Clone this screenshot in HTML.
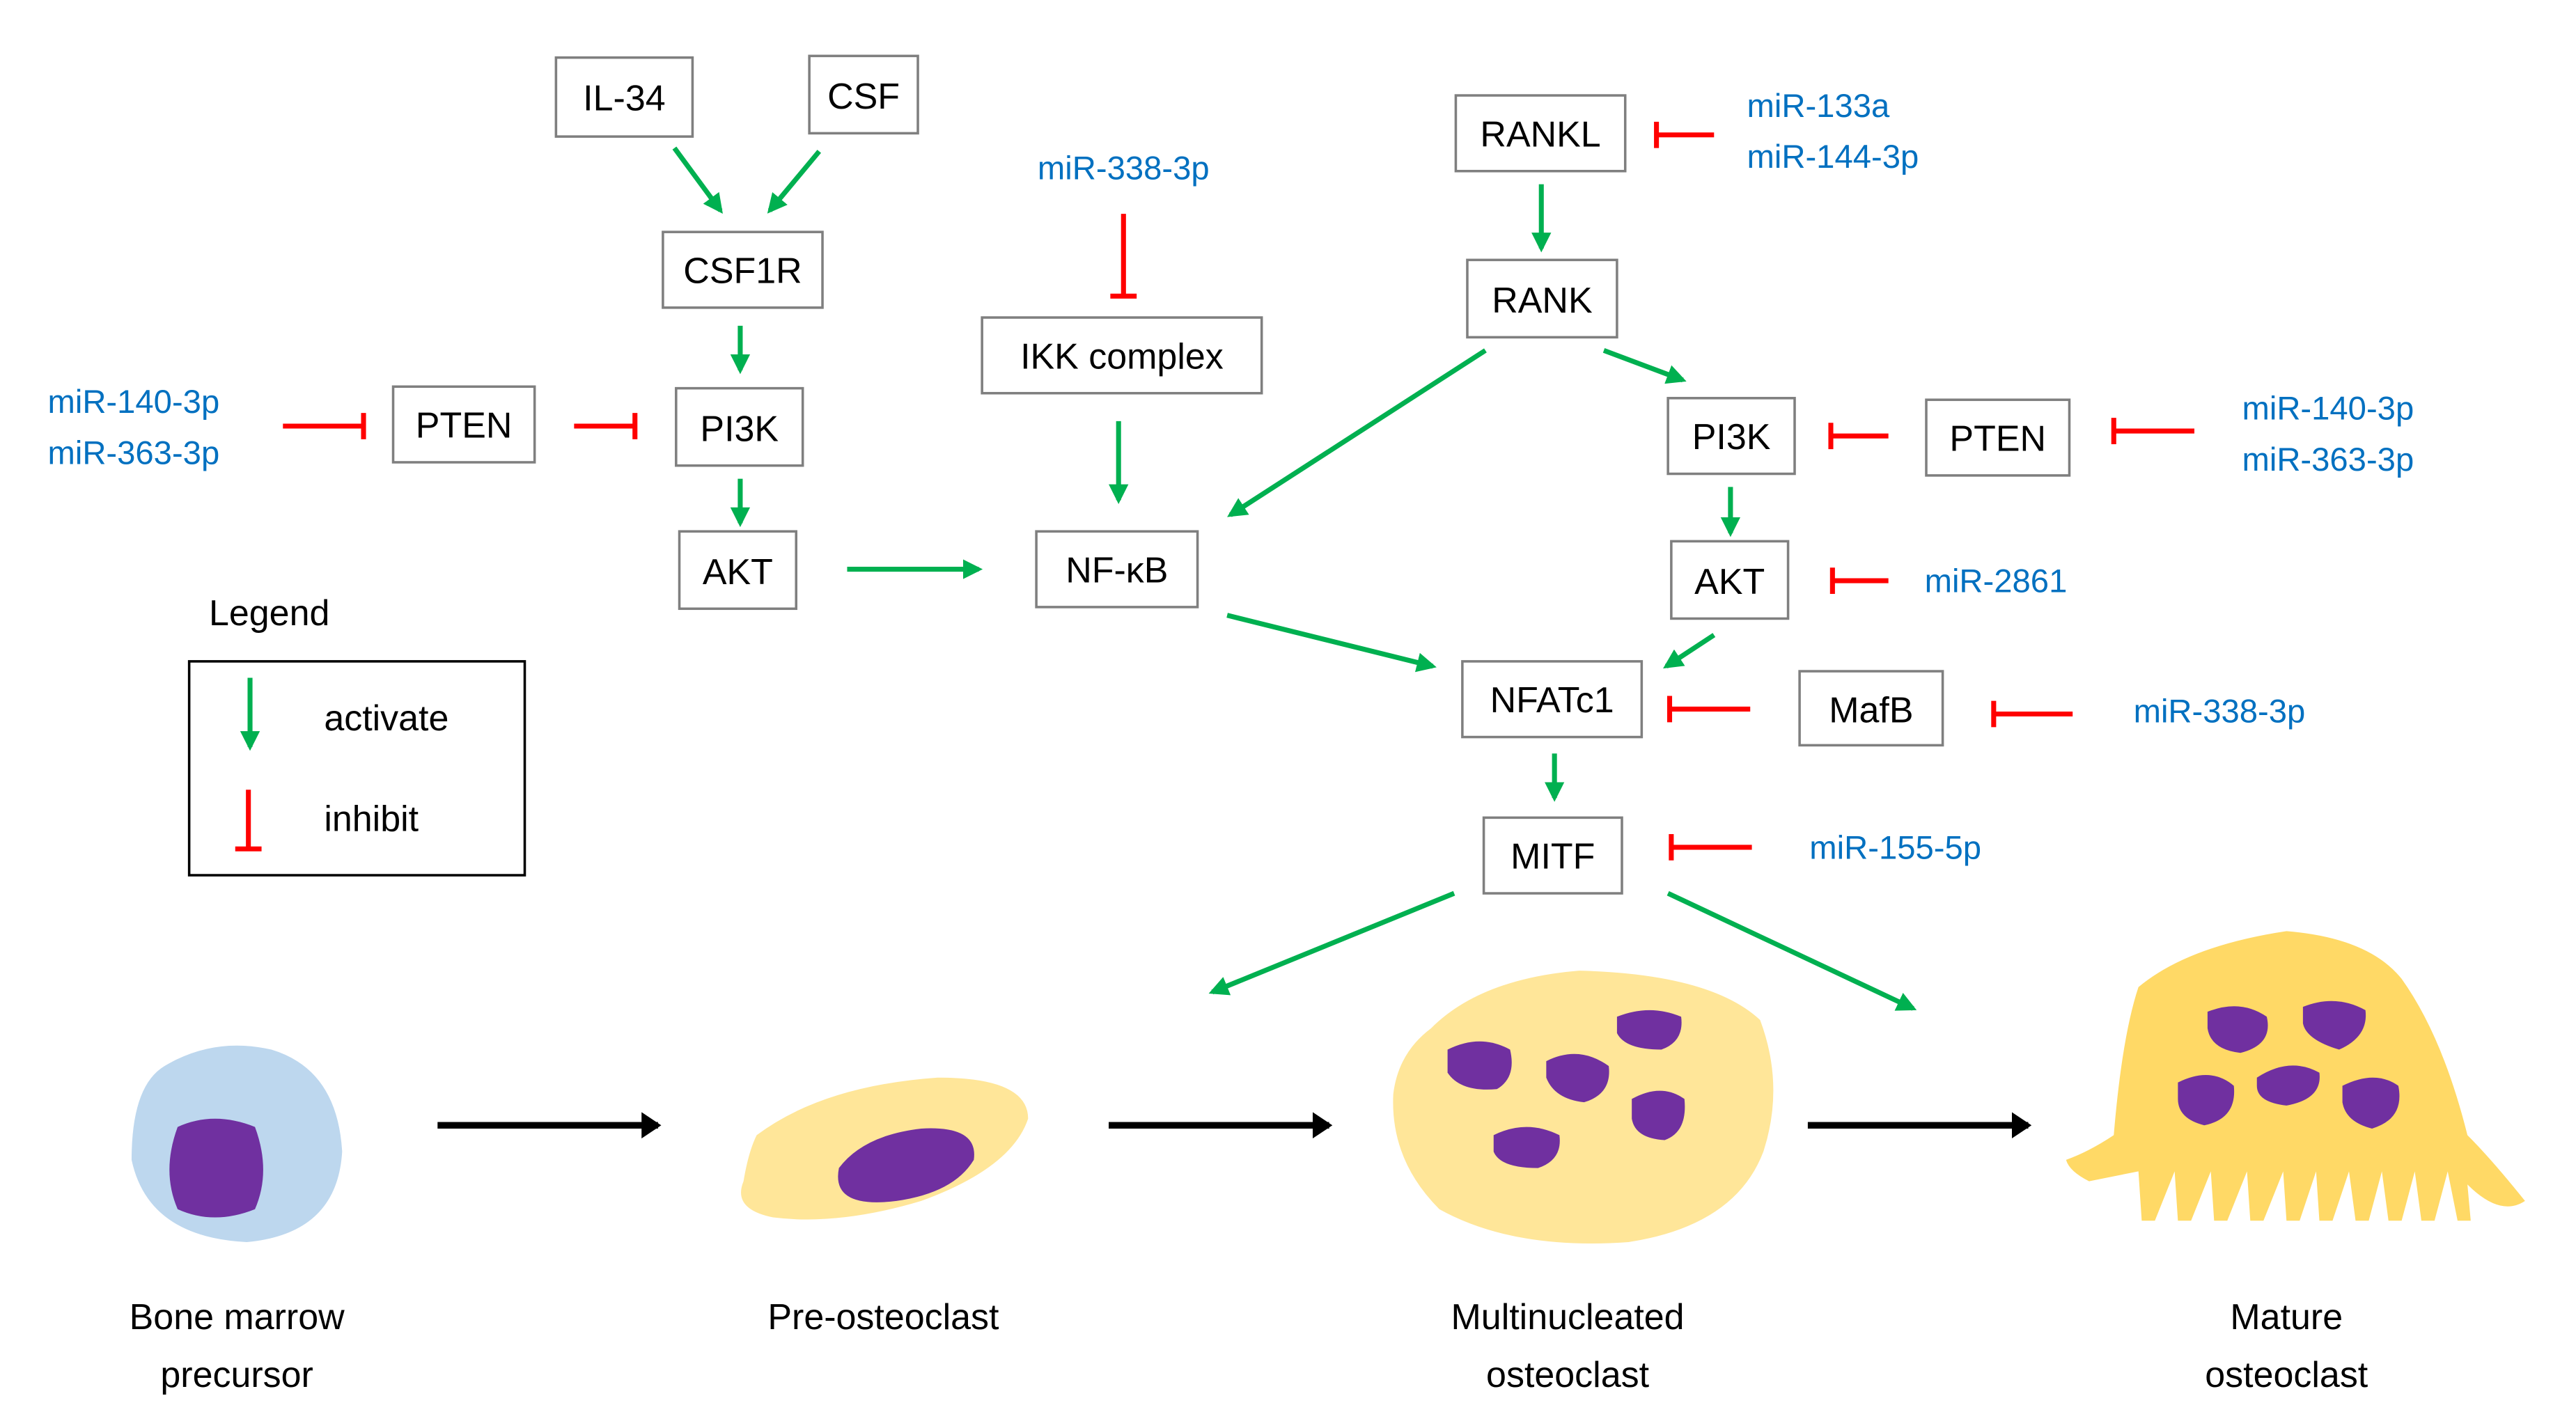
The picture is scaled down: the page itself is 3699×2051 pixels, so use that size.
<!DOCTYPE html>
<html><head><meta charset="utf-8"><style>
html,body{margin:0;padding:0;background:#fff;}
svg{display:block;}
text{font-family:"Liberation Sans",sans-serif;}
</style></head><body>
<svg width="3699" height="2051" viewBox="0 0 1566 868" preserveAspectRatio="none" xmlns="http://www.w3.org/2000/svg">
<defs>
<marker id="g" markerWidth="4" markerHeight="4" refX="3.2" refY="2" orient="auto" markerUnits="strokeWidth"><path d="M0,0 L4,2 L0,4 z" fill="#00B050"/></marker>
<marker id="k" markerWidth="3" markerHeight="4" refX="2.5" refY="2" orient="auto" markerUnits="strokeWidth"><path d="M0,0 L3,2 L0,4 z" fill="#000"/></marker>
</defs>
<g fill="#fff" stroke="#7f7f7f" stroke-width="1.5">
<rect x="338" y="35" width="83" height="48"/>
<rect x="492" y="34" width="66" height="47"/>
<rect x="403" y="141" width="97" height="46"/>
<rect x="239" y="235" width="86" height="46"/>
<rect x="411" y="236" width="77" height="47"/>
<rect x="413" y="323" width="71" height="47"/>
<rect x="597" y="193" width="170" height="46"/>
<rect x="630" y="323" width="98" height="46"/>
<rect x="885" y="58" width="103" height="46"/>
<rect x="892" y="158" width="91" height="47"/>
<rect x="1014" y="242" width="77" height="46"/>
<rect x="1171" y="243" width="87" height="46"/>
<rect x="1016" y="329" width="71" height="47"/>
<rect x="889" y="402" width="109" height="46"/>
<rect x="1094" y="408" width="87" height="45"/>
<rect x="902" y="497" width="84" height="46"/>
</g>
<rect x="115" y="402" width="204" height="130" fill="none" stroke="#000" stroke-width="1.5"/>
<g font-size="22" fill="#000" text-anchor="middle">
<text x="379.5" y="67">IL-34</text>
<text x="525" y="66">CSF</text>
<text x="451.5" y="172">CSF1R</text>
<text x="282" y="266">PTEN</text>
<text x="449.5" y="268">PI3K</text>
<text x="448.5" y="355">AKT</text>
<text x="682" y="224">IKK complex</text>
<text x="679" y="354">NF-κB</text>
<text x="936.5" y="89">RANKL</text>
<text x="937.5" y="190">RANK</text>
<text x="1052.5" y="273">PI3K</text>
<text x="1214.5" y="274">PTEN</text>
<text x="1051.5" y="361">AKT</text>
<text x="943.5" y="433">NFATc1</text>
<text x="1137.5" y="439">MafB</text>
<text x="944" y="528">MITF</text>
<text x="127" y="380" text-anchor="start">Legend</text>
<text x="197" y="444" text-anchor="start">activate</text>
<text x="197" y="505" text-anchor="start">inhibit</text>
<text x="144" y="808">Bone marrow</text>
<text x="144" y="843">precursor</text>
<text x="537" y="808">Pre-osteoclast</text>
<text x="953" y="808">Multinucleated</text>
<text x="953" y="843">osteoclast</text>
<text x="1390" y="808">Mature</text>
<text x="1390" y="843">osteoclast</text>
</g>
<g font-size="20" fill="#0070C0">
<text x="683" y="109" text-anchor="middle">miR-338-3p</text>
<text x="1062" y="71">miR-133a</text>
<text x="1062" y="102">miR-144-3p</text>
<text x="29" y="251">miR-140-3p</text>
<text x="29" y="282">miR-363-3p</text>
<text x="1363" y="255">miR-140-3p</text>
<text x="1363" y="286">miR-363-3p</text>
<text x="1170" y="360">miR-2861</text>
<text x="1297" y="439">miR-338-3p</text>
<text x="1100" y="522">miR-155-5p</text>
</g>
<g stroke="#00B050" stroke-width="3" fill="none" marker-end="url(#g)">
<line x1="410" y1="90" x2="438" y2="128"/>
<line x1="498" y1="92" x2="468" y2="128"/>
<line x1="450" y1="198" x2="450" y2="225"/>
<line x1="450" y1="291" x2="450" y2="318"/>
<line x1="515" y1="346" x2="595" y2="346"/>
<line x1="680" y1="256" x2="680" y2="304"/>
<line x1="903" y1="213" x2="748" y2="313"/>
<line x1="975" y1="213" x2="1023" y2="231"/>
<line x1="746" y1="374" x2="871" y2="405"/>
<line x1="937" y1="112" x2="937" y2="151"/>
<line x1="1052" y1="296" x2="1052" y2="324"/>
<line x1="1042" y1="386" x2="1013" y2="405"/>
<line x1="945" y1="458" x2="945" y2="485"/>
<line x1="884" y1="543" x2="737" y2="603"/>
<line x1="1014" y1="543" x2="1163" y2="613"/>
<line x1="152" y1="412" x2="152" y2="454"/>
</g>
<g stroke="#FF0000" stroke-width="3" fill="none">
<path d="M172,259 H221 M221,251 V267"/>
<path d="M349,259 H386 M386,251 V267"/>
<path d="M683,130 V180 M675,180 H691"/>
<path d="M1042,82 H1007 M1007,74 V90"/>
<path d="M1148,265 H1113 M1113,257 V273"/>
<path d="M1334,262 H1285 M1285,254 V270"/>
<path d="M1148,353 H1114 M1114,345 V361"/>
<path d="M1064,431 H1015 M1015,423 V439"/>
<path d="M1260,434 H1212 M1212,426 V442"/>
<path d="M1065,515 H1016 M1016,507 V523"/>
<path d="M151,480 V516 M143,516 H159"/>
</g>
<g stroke="#000" stroke-width="4" marker-end="url(#k)">
<line x1="266" y1="684" x2="400" y2="684"/>
<line x1="674" y1="684" x2="808" y2="684"/>
<line x1="1099" y1="684" x2="1233" y2="684"/>
</g>
<path d="M100,648 Q130,630 165,638 Q205,650 208,700 Q205,750 150,755 Q90,752 80,705 Q80,660 100,648z" fill="#BDD7EE"/>
<path d="M108,685 Q130,675 155,685 Q165,712 155,735 Q130,745 108,735 Q98,712 108,685z" fill="#7030A0"/>
<path d="M460,690 Q500,660 570,655 Q625,655 625,680 Q615,710 560,730 Q510,745 470,740 Q445,735 452,718 Q455,700 460,690z" fill="#FFE699"/>
<path d="M510,710 Q525,690 560,686 Q595,684 592,705 Q580,725 545,730 Q505,735 510,710z" fill="#7030A0"/>
<path d="M870,625 Q900,595 960,590 Q1040,592 1070,620 Q1085,660 1072,700 Q1055,745 990,755 Q920,760 875,735 Q845,705 847,665 Q850,640 870,625z" fill="#FFE699"/>
<g fill="#7030A0">
<path d="M880,638 Q900,628 918,638 Q922,655 910,662 Q888,664 880,652z"/>
<path d="M940,645 Q960,635 978,648 Q980,665 963,670 Q945,668 940,655z"/>
<path d="M983,618 Q1003,610 1022,618 Q1024,633 1010,638 Q988,638 983,628z"/>
<path d="M992,668 Q1010,658 1024,668 Q1026,688 1012,693 Q994,692 992,680z"/>
<path d="M908,690 Q928,680 948,690 Q950,705 935,710 Q912,710 908,700z"/>
</g>
<path d="M1300,600 Q1330,575 1390,566 Q1440,570 1460,595 Q1485,630 1500,690 Q1515,705 1535,730 Q1520,740 1500,720 L1502,742 L1494,742 L1488,712 L1480,742 L1472,742 L1468,712 L1460,742 L1452,742 L1448,712 L1440,742 L1432,742 L1428,712 L1418,742 L1410,742 L1408,712 L1398,742 L1390,742 L1388,712 L1376,742 L1368,742 L1366,712 L1354,742 L1346,742 L1344,712 L1332,742 L1324,742 L1322,712 L1310,742 L1302,742 L1300,712 Q1285,715 1270,718 Q1258,712 1256,705 Q1270,700 1285,690 Q1290,630 1300,600z" fill="#FFD966"/>
<g fill="#7030A0">
<path d="M1342,615 Q1362,607 1378,618 Q1382,635 1362,640 Q1344,638 1342,625z"/>
<path d="M1400,612 Q1420,604 1438,614 Q1440,630 1422,638 Q1402,632 1400,622z"/>
<path d="M1324,658 Q1344,648 1358,660 Q1360,680 1340,684 Q1324,680 1324,668z"/>
<path d="M1372,655 Q1392,642 1410,652 Q1412,668 1390,672 Q1372,670 1372,660z"/>
<path d="M1424,660 Q1444,650 1458,660 Q1462,680 1442,686 Q1426,682 1424,670z"/>
</g>
</svg>
</body></html>
